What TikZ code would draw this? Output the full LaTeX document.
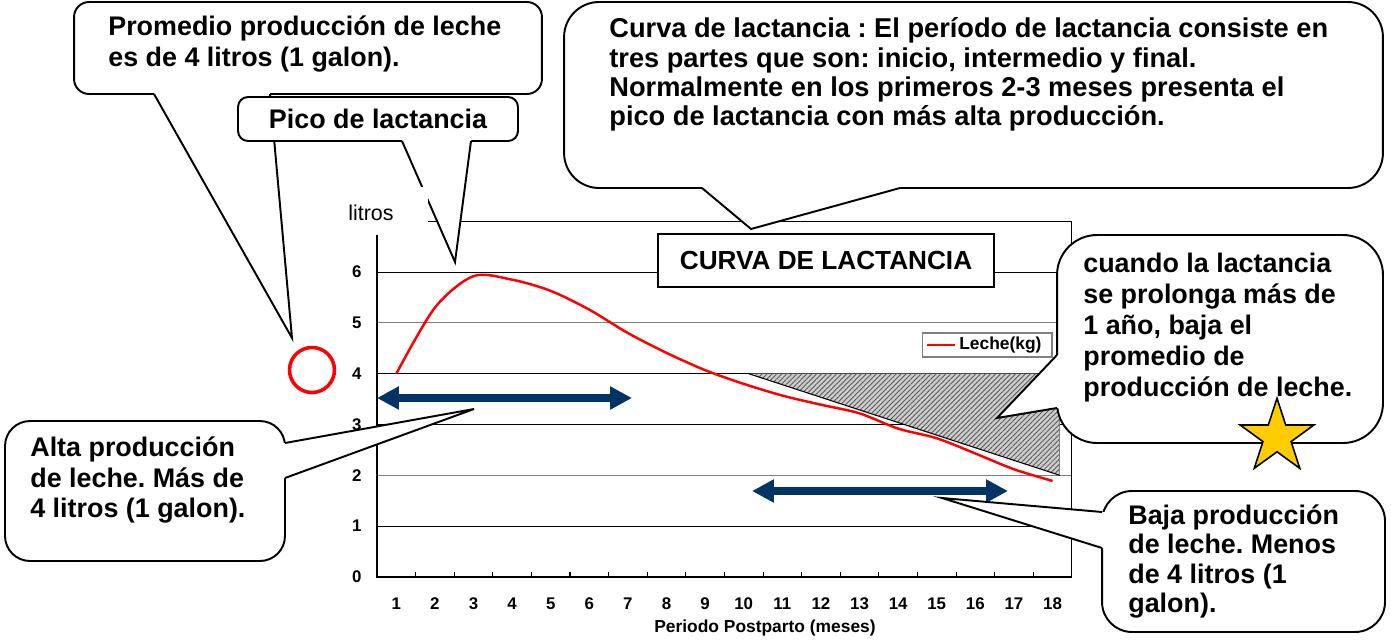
\documentclass[tikz,border=0pt]{standalone}
\usepackage{fontspec}
\setmainfont{Liberation Sans}
\usetikzlibrary{arrows.meta, shapes.geometric, patterns.meta}
\definecolor{navy}{HTML}{003366}
\definecolor{starfill}{HTML}{FFCC00}
\frenchspacing

\begin{document}
\begin{tikzpicture}[x=0.02cm, y=-0.02cm,
                    callout/.style={draw, fill=white, line width=1.1pt},
                    callout text/.style={font=\bfseries\fontsize{15.3}{17.6}\selectfont, align=left, inner sep=0pt},
                    axis label/.style={font=\bfseries\fontsize{9.6}{11}\selectfont, inner sep=0pt},
                    grid line/.style={line width=0.6pt},
                    tail/.style={line width=1.1pt, line join=miter},
                    double arrow/.style={navy, line width=4pt,
                        {Triangle[length=12.5pt, width=12.5pt]}-{Triangle[length=12.5pt, width=12.5pt]}}]
                    \fill[white] (0,0) rectangle (1391,639);
                    \useasboundingbox (0,0) rectangle (1391,639);

                    \begin{scope}[shift={(377,577)}, x=0.7722cm, y=1.01667cm]
                        \foreach \v in {1,3,4,6}
                            \draw[grid line] (0,\v) -- (18,\v);
                        \foreach \v in {2,5}
                            \draw[grid line, gray] (0,\v) -- (18,\v);
                        \draw[grid line] (1.32,7) -- (18,7) -- (18,0);
                        \draw[grid line] (0,6.73) -- (0,0) -- (18,0);
                        \foreach \k in {1,...,18}
                            \draw[grid line] (\k,0) -- (\k,0.1);
                        \foreach \v in {0,...,6}
                            \node[axis label] (y\v) at (-0.52,\v) {\v};
                        \foreach \m in {1,...,18}
                            \node[axis label] (x\m) at (\m-0.5,-0.53) {\m};
                        \fill[gray!40] (9.63,4) -- (17.69,4) -- (17.69,2) -- cycle;
                        \fill[pattern={Lines[angle=45, distance=2pt, line width=0.5pt]}, pattern color=gray!70!black]
                            (9.63,4) -- (17.69,4) -- (17.69,2) -- cycle;
                        \draw[grid line] (9.63,4) -- (17.69,2);
                        \draw[grid line, gray] (17.69,4) -- (17.69,2);
                        \draw[red, line width=1.4pt] plot[smooth] coordinates {
                            (0.5,4.0) (1.5,5.3) (2.5,5.92) (3.5,5.85) (4.5,5.63) (5.5,5.26)
                            (6.5,4.8) (7.5,4.41) (8.5,4.07) (9.5,3.8) (10.5,3.57) (11.5,3.39)
                            (12.5,3.22) (13.5,2.92) (14.5,2.73) (15.5,2.43) (16.5,2.12) (17.5,1.89)};
                    \end{scope}
                    \node[axis label, font=\bfseries\fontsize{9.9}{11}\selectfont] (periodo) at (765,628) {Periodo Postparto (meses)};

                    \node[draw=gray, line width=0.6pt, fill=white, minimum width=2.6cm, minimum height=0.48cm] (leyenda) at (987,345) {};
                    \draw[red, line width=1.4pt] (927,345) -- (955,345);
                    \node[axis label, anchor=west, font=\bfseries\fontsize{9.9}{11}\selectfont] (leche) at (959,345) {Leche(kg)};

                    \node[draw, line width=1.2pt, fill=white, minimum width=6.72cm, minimum height=1.06cm,
                          font=\bfseries\fontsize{14.9}{17}\selectfont] (titulo) at (826,260.5) {CURVA DE LACTANCIA};

                    \coordinate (alta left) at (377,398);
                    \coordinate (alta right) at (632,398);
                    \coordinate (baja left) at (752,491);
                    \coordinate (baja right) at (1008,491);
                    \draw[double arrow] (alta left) -- (alta right);
                    \draw[double arrow] (baja left) -- (baja right);

                    \node[circle, draw=red, line width=2pt, minimum size=0.9cm, inner sep=0pt] (anillo) at (312,370) {};

                    \node[callout, rounded corners=0.3cm, minimum width=9.36cm, minimum height=1.84cm] (promedio) at (308,48) {};
                    \coordinate (promedio tip) at (292,338);
                    \fill[white] (154,90) -- (154,94) -- (promedio tip) -- (270,94) -- (270,90) -- cycle;
                    \draw[tail] (154,94) -- (promedio tip) -- (270,94);
                    \node[callout text, anchor=west] (promedio text) at (108,44)
                        {Promedio producción de leche\\es de 4 litros (1 galon).};

                    \node[callout, rounded corners=0.2cm, minimum width=5.6cm, minimum height=0.88cm,
                          font=\bfseries\fontsize{15.3}{17.6}\selectfont] (pico) at (378,119) {Pico de lactancia};
                    \coordinate (pico tip) at (455,262);
                    \fill[white] (402,137) -- (402,141) -- (pico tip) -- (471,141) -- (471,137) -- cycle;
                    \draw[tail] (402,141) -- (pico tip) -- (471,141);
                    \fill[white] (330,187) rectangle (428,235);
                    \node[font=\fontsize{12.2}{14}\selectfont, inner sep=0pt] (litros) at (371,213) {litros};

                    \node[callout, rounded corners=0.7cm, minimum width=16.38cm, minimum height=3.72cm] (curva) at (973.5,95) {};
                    \coordinate (curva tip) at (751,229);
                    \fill[white] (702,184) -- (702,188) -- (curva tip) -- (900,188) -- (900,184) -- cycle;
                    \draw[tail] (702,188) -- (curva tip) -- (900,188);
                    \node[callout text, anchor=west, font=\bfseries\fontsize{15.5}{16.6}\selectfont] (curva text) at (609,74.5)
                        {Curva de lactancia : El período de lactancia consiste en\\
                         tres partes que son: inicio, intermedio y final.\\
                         Normalmente en los primeros 2-3 meses presenta el\\
                         pico de lactancia con más alta producción.};

                    \node[callout, rounded corners=0.5cm, minimum width=5.6cm, minimum height=2.8cm] (alta) at (145,491) {};
                    \coordinate (alta tip) at (474,409);
                    \fill[white] (281,443) -- (285,443) -- (alta tip) -- (285,478) -- (281,478) -- cycle;
                    \draw[tail] (285,443) -- (alta tip) -- (285,478);
                    \node[callout text, anchor=west] (alta text) at (30,480)
                        {Alta producción\\de leche. Más de\\4 litros (1 galon).};

                    \node[callout, rounded corners=0.8cm, minimum width=6.52cm, minimum height=4.16cm] (cuando) at (1220,339) {};
                    \coordinate (cuando tip) at (997,418);
                    \fill[white] (1061,355) -- (1057,355) -- (cuando tip) -- (1057,408) -- (1061,408) -- cycle;
                    \draw[tail] (1057,355) -- (cuando tip) -- (1057,408);
                    \node[callout text, anchor=west, font=\bfseries\fontsize{15.3}{17.7}\selectfont] (cuando text) at (1083,327.5)
                        {cuando la lactancia\\se prolonga más de\\1 año, baja el\\promedio de\\producción de leche.};

                    \node[callout, rounded corners=0.6cm, minimum width=5.66cm, minimum height=2.82cm] (baja) at (1243.5,561.5) {};
                    \coordinate (baja tip) at (942,498);
                    \fill[white] (1106,512) -- (1102,512) -- (baja tip) -- (1102,548) -- (1106,548) -- cycle;
                    \draw[tail] (1102,512) -- (baja tip) -- (1102,548);
                    \node[callout text, anchor=west, font=\bfseries\fontsize{15.3}{16.6}\selectfont] (baja text) at (1128,561.5)
                        {Baja producción\\de leche. Menos\\de 4 litros (1\\galon).};

                    \node[star, star points=5, star point ratio=2.618, draw, line width=0.9pt, fill=starfill,
                          minimum size=1.55cm, inner sep=0pt] (estrella) at (1277,437) {};
                \end{tikzpicture}
\end{document}
